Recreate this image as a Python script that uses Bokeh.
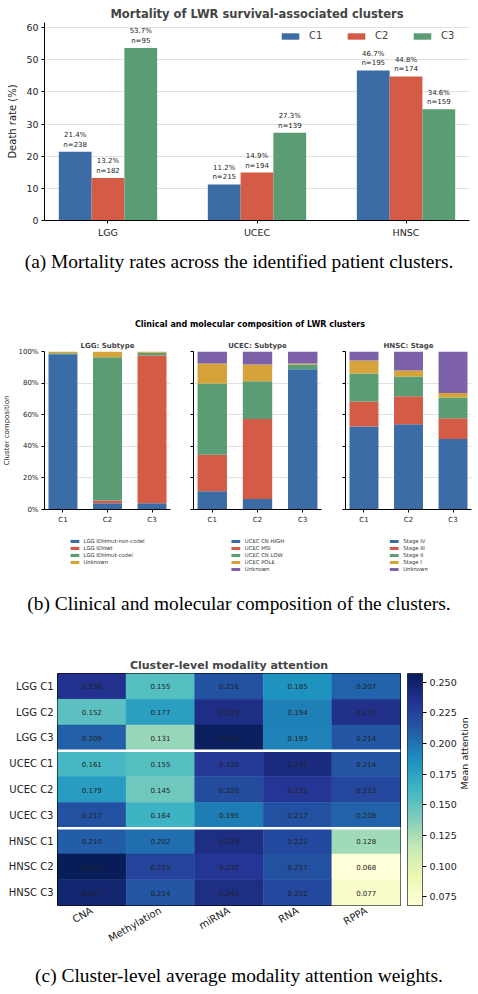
import numpy as np
from math import pi

from bokeh.plotting import figure
from bokeh.layouts import column, row
from bokeh.core.properties import value
from bokeh.models import (ColumnDataSource, FactorRange, Range1d, Legend, LegendItem,
                          FixedTicker, PrintfTickFormatter, LinearColorMapper, LinearAxis,
                          Span, Div)
from bokeh.transform import dodge
from bokeh.embed import file_html
from bokeh.resources import INLINE

FONT = "DejaVu Sans"
SERIF = "Liberation Serif"
BLUE, RED, GREEN, ORANGE, PURPLE = "#3b6ca6", "#d45c46", "#5a9c74", "#d6a23a", "#7c60a8"
W = 478

# ---------------- data ----------------
cancers = ["LGG", "UCEC", "HNSC"]
clusters = ["C1", "C2", "C3"]

# death rate (%) and cluster size, per cancer
death_c1 = [21.4, 11.2, 46.7]
death_c2 = [13.2, 14.9, 44.8]
death_c3 = [53.7, 27.3, 34.6]
n_c1 = [238, 215, 195]
n_c2 = [182, 194, 174]
n_c3 = [95, 139, 159]

# composition (%) of C1, C2, C3 for each category
lgg_types = ["LGG IDHmut-non-codel", "LGG IDHwt", "LGG IDHmut-codel", "Unknown"]
lgg_share = [[98.3, 4.0, 4.0], [0.0, 1.7, 93.5], [0.6, 90.7, 1.7], [1.1, 3.6, 0.8]]

ucec_types = ["UCEC CN HIGH", "UCEC MSI", "UCEC CN LOW", "UCEC POLE", "Unknown"]
ucec_share = [[11.6, 6.7, 88.8], [23.1, 50.6, 0.0], [45.1, 23.8, 3.0],
              [12.6, 10.7, 0.6], [7.6, 8.2, 7.6]]

hnsc_stages = ["Stage IV", "Stage III", "Stage II", "Stage I", "Unknown"]
hnsc_share = [[52.6, 53.9, 44.6], [15.8, 17.7, 13.1], [17.7, 12.6, 13.2],
              [8.2, 3.8, 2.8], [5.7, 12.0, 26.3]]

# mean modality attention per cluster
modalities = ["CNA", "Methylation", "miRNA", "RNA", "RPPA"]
att_lgg = [[0.236, 0.155, 0.216, 0.185, 0.207],
           [0.152, 0.177, 0.239, 0.194, 0.237],
           [0.209, 0.131, 0.254, 0.193, 0.214]]
att_ucec = [[0.161, 0.155, 0.230, 0.241, 0.214],
            [0.179, 0.145, 0.220, 0.232, 0.223],
            [0.217, 0.164, 0.195, 0.217, 0.208]]
att_hnsc = [[0.210, 0.202, 0.239, 0.221, 0.128],
            [0.257, 0.225, 0.232, 0.217, 0.068],
            [0.247, 0.214, 0.240, 0.222, 0.077]]
cbar_ticks = [0.075, 0.100, 0.125, 0.150, 0.175, 0.200, 0.225, 0.250]


def make_fig(**kw):
    p = figure(output_backend="svg", toolbar_location=None, frame_align=False, **kw)
    p.outline_line_color = None
    return p


def style_axes(p, size):
    for ax in p.axis:
        ax.axis_line_color = "black"
        ax.axis_line_width = 1
        ax.major_tick_line_color = "black"
        ax.major_tick_out = 3
        ax.major_tick_in = 0
        ax.minor_tick_line_color = None
        ax.major_label_text_font = FONT
        ax.major_label_text_font_size = size
        ax.major_label_text_color = "#222222"
        ax.major_label_standoff = 3
        ax.axis_label_text_font = FONT
        ax.axis_label_text_font_style = "normal"
        ax.axis_label_text_color = "#222222"


def style_title(p, text, size, standoff):
    p.title.text = text
    p.title.align = "center"
    p.title.text_font = FONT
    p.title.text_font_size = size
    p.title.text_font_style = "bold"
    p.title.standoff = standoff


def text_block(html, height, pad_top, style):
    return Div(text=f'<div style="{style};padding-top:{pad_top}px;">{html}</div>',
               width=W, height=height, margin=0)


CAPTION = (f"font-family:'{SERIF}';font-size:19.4px;line-height:22px;"
           f"text-align:center;color:#000;width:{W}px;white-space:nowrap")

# ---------------- (a) mortality bars ----------------
bar_w = 0.22
pa = make_fig(x_range=FactorRange(factors=cancers, range_padding=-0.074,
                                  range_padding_units="absolute"),
              y_range=Range1d(0, 61.6), width=W, height=248,
              min_border_left=44, min_border_right=9, min_border_top=22, min_border_bottom=28)
pa.xgrid.grid_line_color = None
pa.ygrid.grid_line_color = "#e2e2e2"
pa.ygrid.grid_line_width = 1
pa.yaxis.ticker = FixedTicker(ticks=list(range(0, 61, 10)))
pa.yaxis.axis_label = "Death rate (%)"
style_title(pa, "Mortality of LWR survival-associated clusters", "11.5px", 4)
style_axes(pa, "9.5px")
pa.yaxis.axis_label_text_font_size = "10px"
pa.yaxis.axis_label_standoff = 5

items = []
for i, (cl, rates, ns, col) in enumerate(zip(clusters, [death_c1, death_c2, death_c3],
                                               [n_c1, n_c2, n_c3], [BLUE, RED, GREEN])):
    src = ColumnDataSource(dict(cancer=cancers, rate=rates,
                                label=[f"{r:.1f}%\nn={n}" for r, n in zip(rates, ns)]))
    xpos = dodge("cancer", (i - 1) * bar_w, range=pa.x_range)
    r = pa.vbar(x=xpos, top="rate", width=bar_w, source=src, fill_color=col, line_color=None)
    pa.text(x=xpos, y="rate", text="label", source=src, text_align="center",
            text_baseline="bottom", y_offset=-3, text_font=value(FONT), text_font_size="7px",
            text_line_height=1.2, text_color="#222222")
    items.append(LegendItem(label=cl, renderers=[r]))

leg_a = Legend(items=items, orientation="horizontal", location="top_right",
               border_line_color=None, background_fill_alpha=0, glyph_width=22,
               glyph_height=8, label_text_font=FONT, label_text_font_size="10px",
               label_standoff=8, spacing=16, padding=0, margin=8, label_height=8)
pa.add_layout(leg_a)

cap_a = text_block("(a) Mortality rates across the identified patient clusters.", 42, 3, CAPTION)

# ---------------- (b) composition stacks ----------------
sup_b = text_block("Clinical and molecular composition of LWR clusters", 43, 30,
                   f"font-family:'{FONT}';font-weight:bold;font-size:8px;line-height:10px;"
                   f"text-align:center;width:456px;margin-left:22px;color:#000")

stack_colors = [BLUE, RED, GREEN, ORANGE, PURPLE]


def composition_panel(title, cats, shares, width, bl, br, first):
    data = dict(cluster=clusters)
    for c, s in zip(cats, shares):
        data[c] = s
    src = ColumnDataSource(data)
    colors = stack_colors[:len(cats)]

    p = make_fig(x_range=FactorRange(factors=clusters, range_padding=-0.085,
                                     range_padding_units="absolute"),
                 y_range=Range1d(0, 100), width=width, height=196,
                 min_border_left=bl, min_border_right=br, min_border_top=18,
                 min_border_bottom=20)
    p.xgrid.grid_line_color = None
    p.ygrid.grid_line_color = "#e2e2e2"
    p.yaxis.ticker = FixedTicker(ticks=[0, 20, 40, 60, 80, 100])
    style_title(p, title, "7px", 4)
    style_axes(p, "7px")
    if first:
        p.yaxis.formatter = PrintfTickFormatter(format="%d%%")
        p.yaxis.axis_label = "Cluster composition"
        p.yaxis.axis_label_text_font_size = "7px"
        p.yaxis.axis_label_standoff = 4
    else:
        p.yaxis.major_label_overrides = {t: "" for t in [0, 20, 40, 60, 80, 100]}
    p.vbar_stack(cats, x="cluster", width=0.65, source=src, fill_color=colors, line_color=None)

    # key strip under the plot: hidden copies of the stacks feed the legend swatches
    k = make_fig(x_range=FactorRange(factors=clusters), y_range=Range1d(0, 100),
                 width=width, height=61, min_border_left=bl, min_border_right=br,
                 min_border_top=0, min_border_bottom=0)
    k.axis.visible = False
    k.grid.grid_line_color = None
    swatches = k.vbar_stack(cats, x="cluster", width=0.65, source=src,
                            fill_color=colors, line_color=None)
    for s in swatches:
        s.visible = False
    leg = Legend(items=[LegendItem(label=c, renderers=[r]) for c, r in zip(cats, swatches)],
                 location="top_center", orientation="vertical", border_line_color=None,
                 background_fill_alpha=0, glyph_width=11, glyph_height=4,
                 label_text_font=FONT, label_text_font_size="5.3px",
                 label_text_color="#333333", label_standoff=4, label_height=6,
                 spacing=1, padding=0, margin=9, click_policy="none")
    k.add_layout(leg)
    return column(p, k, spacing=0)


pb1 = composition_panel("LGG: Subtype", lgg_types, lgg_share, 182, 43, 12, True)
pb2 = composition_panel("UCEC: Subtype", ucec_types, ucec_share, 151, 11, 12, False)
pb3 = composition_panel("HNSC: Stage", hnsc_stages, hnsc_share, 145, 12, 7, False)

cap_b = text_block("(b) Clinical and molecular composition of the clusters.", 50, 3, CAPTION)

# ---------------- (c) attention heatmap ----------------
groups = [("LGG", att_lgg), ("UCEC", att_ucec), ("HNSC", att_hnsc)]
row_names, xs, ys, vals = [], [], [], []
for name, mat in groups:
    for k, rowvals in enumerate(mat):
        rn = f"{name} {clusters[k]}"
        row_names.append(rn)
        for m, v in zip(modalities, rowvals):
            xs.append(m)
            ys.append(rn)
            vals.append(v)

all_vals = np.array(vals)
lo, hi = float(all_vals.min()), float(all_vals.max())
base = ["#ffffd9", "#edf8b1", "#c7e9b4", "#7fcdbb", "#41b6c4",
        "#1d91c0", "#225ea8", "#253494", "#081d58"]
rgb = np.array([[int(h[i:i + 2], 16) for i in (1, 3, 5)] for h in base], dtype=float)
pos = np.linspace(0, 1, len(base))
ylgnbu = ["#%02x%02x%02x" % tuple(int(round(np.interp(tt, pos, rgb[:, c]))) for c in range(3))
          for tt in np.linspace(0, 1, 256)]
mapper = LinearColorMapper(palette=ylgnbu, low=lo, high=hi)

pc = make_fig(x_range=FactorRange(factors=modalities),
              y_range=FactorRange(factors=list(reversed(row_names))),
              width=407, height=315, min_border_left=57, min_border_right=7,
              min_border_top=33, min_border_bottom=50)
pc.grid.grid_line_color = None
pc.outline_line_color = "black"
pc.outline_line_width = 1
style_title(pc, "Cluster-level modality attention", "11px", 4)
style_axes(pc, "10px")
for ax in pc.axis:
    ax.axis_line_color = None
    ax.major_tick_out = 0
    ax.major_label_standoff = 4
pc.xaxis.major_label_orientation = pi / 6

src_c = ColumnDataSource(dict(modality=xs, row=ys, value=vals,
                              label=[f"{v:.3f}" for v in vals]))
pc.rect(x="modality", y="row", width=1, height=1, source=src_c,
        fill_color={"field": "value", "transform": mapper},
        line_color={"field": "value", "transform": mapper}, line_width=0.5)
pc.text(x="modality", y="row", text="label", source=src_c, text_align="center",
        text_baseline="middle", text_font=value(FONT), text_font_size="7px",
        text_color="#222222")

# white separators between cancer types
bounds = np.cumsum([len(m) for _, m in reversed(groups)])[:-1]
for b in bounds:
    pc.add_layout(Span(location=float(b), dimension="width", line_color="white", line_width=2.5))

# colour scale as its own narrow plot
pcb = make_fig(x_range=Range1d(0, 1), y_range=Range1d(lo, hi), width=71, height=315,
               min_border_left=0, min_border_right=20, min_border_top=33,
               min_border_bottom=50, y_axis_location="right")
pcb.grid.grid_line_color = None
pcb.outline_line_color = "black"
pcb.outline_line_width = 0.8
pcb.xaxis.visible = False
grad = np.linspace(lo, hi, 256).reshape(-1, 1)
pcb.image(image=[grad], x=0, y=lo, dw=1, dh=hi - lo, color_mapper=mapper)
style_axes(pcb, "9.5px")
pcb.yaxis.axis_line_color = None
pcb.yaxis.major_tick_out = 4
pcb.yaxis.ticker = FixedTicker(ticks=cbar_ticks)
pcb.yaxis.formatter = PrintfTickFormatter(format="%.3f")
pcb.yaxis.axis_label = "Mean attention"
pcb.yaxis.axis_label_text_font_size = "9.5px"
pcb.yaxis.axis_label_standoff = 5
if "axis_label_orientation" in LinearAxis.properties():
    pcb.yaxis.axis_label_orientation = pi / 2

cap_c = text_block("(c) Cluster-level average modality attention weights.", 39, 10, CAPTION)

layout = column(pa, cap_a, sup_b, row(pb1, pb2, pb3, spacing=0), cap_b,
                row(pc, pcb, spacing=0), cap_c, spacing=0)
open("out.html", "w").write(file_html(layout, INLINE))
